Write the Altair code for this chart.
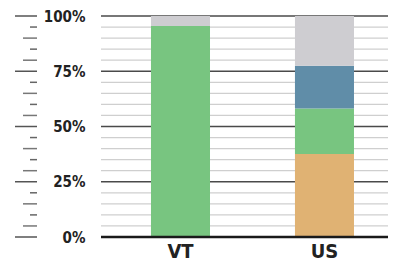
import altair as alt
import pandas as pd

# ---- data ----
regions = ["VT", "US"]
series = ["Orange", "Green", "Blue", "Gray"]
colors = ["#e0b273", "#78c580", "#608da8", "#cecdd1"]
vt_values = [0.0, 95.5, 0.0, 4.5]
us_values = [37.6, 20.6, 19.3, 22.5]
major_ticks = [0, 25, 50, 75, 100]
minor_ticks = [v for v in range(0, 101, 5) if v not in major_ticks]

rows = []
for reg, vals in zip(regions, [vt_values, us_values]):
    for i, (s, v) in enumerate(zip(series, vals)):
        rows.append({"region": reg, "series": s, "order": i, "value": v})
bars_df = pd.DataFrame(rows)

W, H = 293, 221
FONT = "DejaVu Sans Condensed, Liberation Sans Narrow, sans-serif"

yscale = alt.Scale(domain=[0, 100], nice=False)
yaxis = alt.Axis(values=major_ticks, grid=False, domain=False, ticks=False,
                 labelPadding=10, labelFont=FONT, labelFontSize=15,
                 labelFontWeight="bold", labelColor="#222222",
                 labelExpr="datum.value + '%'")


def Y(field, **kw):
    return alt.Y(field, scale=yscale, title=None, axis=yaxis, **kw)


minor_df = pd.DataFrame({"v": minor_ticks})
major_df = pd.DataFrame({"v": major_ticks})
zero_df = pd.DataFrame({"v": [0]})
med_df = pd.DataFrame({"v": [v for v in minor_ticks if (v % 25) in (5, 15)]})
short_df = pd.DataFrame({"v": [v for v in minor_ticks if (v % 25) in (10, 20)]})

minor_grid = alt.Chart(minor_df).mark_rule(color="#cfcfcf", strokeWidth=1.2).encode(
    y=Y("v:Q"), x=alt.value(6), x2=alt.value(W),
)
major_grid = alt.Chart(major_df[major_df.v > 0]).mark_rule(color="#4a4a4a", strokeWidth=1.6).encode(
    y=Y("v:Q"), x=alt.value(6), x2=alt.value(W),
)

bars = alt.Chart(bars_df).mark_bar().encode(
    x=alt.X("region:N", sort=regions, title=None,
            scale=alt.Scale(paddingInner=0.59, paddingOuter=0.3125, align=0.622),
            axis=alt.Axis(labelAngle=0, domain=False, ticks=False, labelPadding=20,
                          labelBaseline="alphabetic",
                          labelFont=FONT, labelFontSize=20, labelFontWeight="bold",
                          labelColor="#222222")),
    y=Y("value:Q", stack="zero"),
    color=alt.Color("series:N", sort=series,
                    scale=alt.Scale(domain=series, range=colors), legend=None),
    order=alt.Order("order:Q"),
)

baseline = alt.Chart(zero_df).mark_rule(color="#1a1a1a", strokeWidth=2.5).encode(
    y=Y("v:Q"), x=alt.value(6), x2=alt.value(W),
)

long_ticks = alt.Chart(major_df).mark_rule(color="#555555", strokeWidth=1.5).encode(
    y=Y("v:Q"), x=alt.value(-80), x2=alt.value(-58),
)
med_ticks = alt.Chart(med_df).mark_rule(color="#777777", strokeWidth=1.5).encode(
    y=Y("v:Q"), x=alt.value(-72), x2=alt.value(-58),
)
short_ticks = alt.Chart(short_df).mark_rule(color="#666666", strokeWidth=1.5).encode(
    y=Y("v:Q"), x=alt.value(-65), x2=alt.value(-58),
)

chart = alt.layer(
    minor_grid, major_grid, bars, baseline, long_ticks, med_ticks, short_ticks
).properties(
    width=W, height=H,
    autosize=alt.AutoSizeParams(type="none"),
    padding={"left": 87, "top": 8, "right": 0, "bottom": 25},
    background="white",
).configure_view(stroke=None)

chart.save("out.html", embed_options={"renderer": "svg", "actions": False})
